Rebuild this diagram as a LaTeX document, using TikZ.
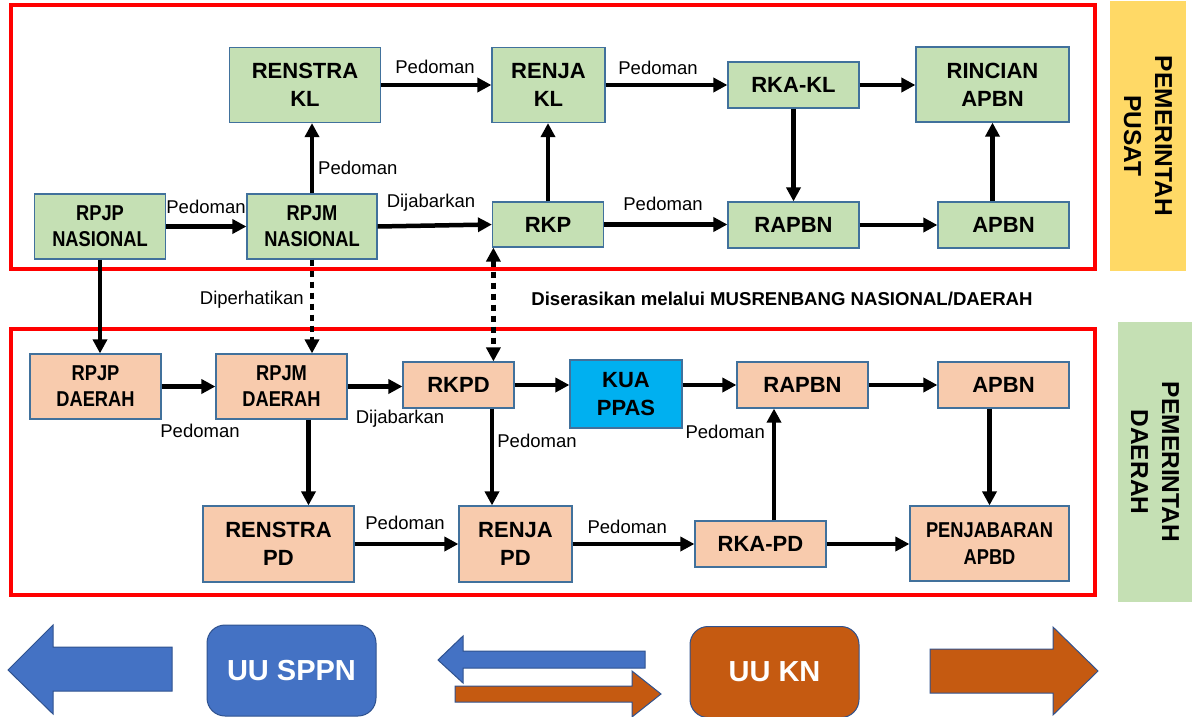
\documentclass[tikz,border=0pt]{standalone}
\usepackage{fontspec}
\setmainfont{Liberation Sans}
\newfontfamily\sempit[FakeStretch=0.85]{Liberation Sans}
\usetikzlibrary{arrows.meta,calc}
\definecolor{hijau}{HTML}{C5E0B4}
\definecolor{jingga}{HTML}{F8CBAD}
\definecolor{biru}{HTML}{4472C4}
\definecolor{birumuda}{HTML}{00B0F0}
\definecolor{coklat}{HTML}{C55A11}
\definecolor{kuning}{HTML}{FFD966}
\definecolor{garis}{HTML}{41719C}
\definecolor{tepi}{HTML}{2F528F}

\begin{document}
\begin{tikzpicture}[x=1pt,y=-1pt,>={Triangle[length=14pt,width=14pt]},
  kotak/.style={draw=garis,line width=1.2pt,inner sep=0pt,align=center,font=\fontsize{22}{28}\selectfont\bfseries},
  pusat/.style={kotak,fill=hijau},
  daerah/.style={kotak,fill=jingga},
  kecil/.style={font=\sempit\fontsize{21.5}{26}\selectfont\bfseries},
  lbl/.style={font=\fontsize{18.5}{20}\selectfont,inner sep=0pt,anchor=base},
  sisi/.style={rotate=-90,align=center,font=\fontsize{24.5}{31}\selectfont\bfseries},
  uu/.style={draw=tepi,line width=1pt,rounded corners=18pt,minimum width=169pt,minimum height=91pt,text=white,font=\fontsize{29}{30}\selectfont\bfseries},
  panah/.style={line width=4.5pt,->},
  titik/.style={line width=4.5pt,dash pattern=on 6pt off 5pt}]
\useasboundingbox (0,0) rectangle (1192,717);
% bingkai
\draw[red,line width=4pt] (10.5,5.5) rectangle (1095,268.5);
\draw[red,line width=4pt] (10.5,329) rectangle (1095,594.5);
\fill[kuning] (1110,1) rectangle (1186,271);
\fill[hijau] (1118,322) rectangle (1192,602);
\node[sisi] (pempusat) at (1148,136) {PEMERINTAH\\PUSAT};
\node[sisi] (pemdaerah) at (1155,462) {PEMERINTAH\\DAERAH};
% pusat
\node[pusat,minimum width=151pt,minimum height=75pt] (renstrakl) at (305,85) {RENSTRA\\KL};
\node[pusat,minimum width=113pt,minimum height=75pt] (renjakl) at (548.5,85) {RENJA\\KL};
\node[pusat,minimum width=131pt,minimum height=46pt] (rkakl) at (793.5,85) {RKA-KL};
\node[pusat,minimum width=153pt,minimum height=75pt] (rincian) at (992.5,84.5) {RINCIAN\\APBN};
\node[pusat,kecil,minimum width=131pt,minimum height=65pt] (rpjpn) at (100,226.5) {RPJP\\NASIONAL};
\node[pusat,kecil,minimum width=130pt,minimum height=65pt] (rpjmn) at (312,226.5) {RPJM\\NASIONAL};
\node[pusat,minimum width=111pt,minimum height=45pt] (rkp) at (548,224.5) {RKP};
\node[pusat,minimum width=131pt,minimum height=46pt] (rapbn) at (793.5,225) {RAPBN};
\node[pusat,minimum width=131pt,minimum height=46pt] (apbn) at (1003.5,225) {APBN};
% daerah
\node[daerah,kecil,minimum width=131pt,minimum height=65pt] (rpjpd) at (95.5,386.5) {RPJP\\DAERAH};
\node[daerah,kecil,minimum width=131pt,minimum height=65pt] (rpjmd) at (281.5,386.5) {RPJM\\DAERAH};
\node[daerah,minimum width=111pt,minimum height=46pt] (rkpd) at (458.5,385) {RKPD};
\node[kotak,fill=birumuda,minimum width=112pt,minimum height=68pt] (kua) at (626,394) {KUA\\PPAS};
\node[daerah,minimum width=131pt,minimum height=46pt] (rapbd) at (802.5,385) {RAPBN};
\node[daerah,minimum width=131pt,minimum height=46pt] (apbd) at (1003.5,385) {APBN};
\node[daerah,minimum width=151pt,minimum height=76pt] (renstrapd) at (278.5,544) {RENSTRA\\PD};
\node[daerah,minimum width=113pt,minimum height=76pt] (renjapd) at (515.5,544) {RENJA\\PD};
\node[daerah,minimum width=131pt,minimum height=46pt] (rkapd) at (760.5,544) {RKA-PD};
\node[daerah,font=\sempit\fontsize{21.5}{27.5}\selectfont\bfseries,minimum width=159pt,minimum height=75pt] (penjabaran) at (989.5,543.5) {PENJABARAN\\APBD};
% label
\node[lbl] (p1) at (435,74) {Pedoman};
\node[lbl] (p2) at (658,75) {Pedoman};
\node[lbl,anchor=base west] (p3) at (318,174) {Pedoman};
\node[lbl] (p4) at (206,213) {Pedoman};
\node[lbl] (dj1) at (431,207) {Dijabarkan};
\node[lbl] (p5) at (663,210) {Pedoman};
\node[lbl,anchor=base east] (dp) at (304,304) {Diperhatikan};
\node[lbl,font=\fontsize{18.6}{20}\selectfont\bfseries] (musren) at (782,305) {Diserasikan melalui MUSRENBANG NASIONAL/DAERAH};
\node[lbl] (p6) at (200,437) {Pedoman};
\node[lbl] (dj2) at (400,423) {Dijabarkan};
\node[lbl] (p7) at (537,447) {Pedoman};
\node[lbl,anchor=base east] (p8) at (765,438) {Pedoman};
\node[lbl] (p9) at (405,529) {Pedoman};
\node[lbl,anchor=base east] (p10) at (667,533) {Pedoman};
% panah pusat
\draw[panah] (renstrakl.east) -- (renstrakl.east -| renjakl.west);
\draw[panah] (renjakl.east) -- (renjakl.east -| rkakl.west);
\draw[panah] (rkakl.east) -- (rkakl.east -| rincian.west);
\draw[panah] (rpjpn.east) -- (rpjpn.east -| rpjmn.west);
\draw[panah] (rpjmn.east) -- (rkp.west);
\draw[panah] (rkp.east) -- (rkp.east -| rapbn.west);
\draw[panah] (rapbn.east) -- (rapbn.east -| apbn.west);
\draw[panah] (rpjmn.north) -- (rpjmn.north |- renstrakl.south);
\draw[panah] (rkp.north) -- (rkp.north |- renjakl.south);
\draw[panah] (rkakl.south) -- (rkakl.south |- rapbn.north);
\draw[panah] (apbn.north -| rincian) -- (rincian.south);
% pusat ke daerah
\draw[panah] (rpjpn.south) -- (rpjpn.south |- rpjpd.north);
\draw[titik,->] (rpjmn.south) -- (rpjmn.south |- rpjmd.north);
\coordinate (d0) at ($(rkp.south west)+(1.5,0)$);
\draw[titik,<->] (d0) -- (d0 |- rkpd.north);
% panah daerah
\draw[panah] (rpjpd.east) -- (rpjpd.east -| rpjmd.west);
\draw[panah] (rpjmd.east) -- (rpjmd.east -| rkpd.west);
\draw[panah] (rkpd.east) -- (rkpd.east -| kua.west);
\draw[panah] (kua.east |- rapbd.west) -- (rapbd.west);
\draw[panah] (rapbd.east) -- (rapbd.east -| apbd.west);
\coordinate (d1) at ($(rpjmd.south)+(27,0)$);
\draw[panah] (d1) -- (d1 |- renstrapd.north);
\coordinate (d2) at ($(rkpd.south)+(33.5,0)$);
\draw[panah] (d2) -- (d2 |- renjapd.north);
\coordinate (d3) at ($(rkapd.north)+(13.5,0)$);
\draw[panah] (d3) -- (d3 |- rapbd.south);
\draw[panah] (apbd.south -| penjabaran) -- (penjabaran.north);
\draw[panah] (renstrapd.east) -- (renstrapd.east -| renjapd.west);
\draw[panah] (renjapd.east) -- (renjapd.east -| rkapd.west);
\draw[panah] (rkapd.east) -- (rkapd.east -| penjabaran.west);
% undang-undang
\filldraw[fill=biru,draw=tepi,line width=1pt] (8,670) -- (53,625) -- (53,647) -- (172,647) -- (172,691) -- (53,691) -- (53,714) -- cycle;
\node[uu,fill=biru] (sppn) at (291.5,670.5) {UU SPPN};
\filldraw[fill=biru,draw=tepi,line width=1pt] (438,660) -- (463,636) -- (463,651) -- (645,651) -- (645,668) -- (463,668) -- (463,683) -- cycle;
\filldraw[fill=coklat,draw=tepi,line width=1pt] (455,686) -- (632,686) -- (632,671) -- (661,694) -- (632,717) -- (632,702) -- (455,702) -- cycle;
\node[uu,fill=coklat] (kn) at (774.5,672) {UU KN};
\filldraw[fill=coklat,draw=tepi,line width=1pt] (930,649) -- (1053,649) -- (1053,627) -- (1098,671) -- (1053,715) -- (1053,693) -- (930,693) -- cycle;
\end{tikzpicture}
\end{document}
